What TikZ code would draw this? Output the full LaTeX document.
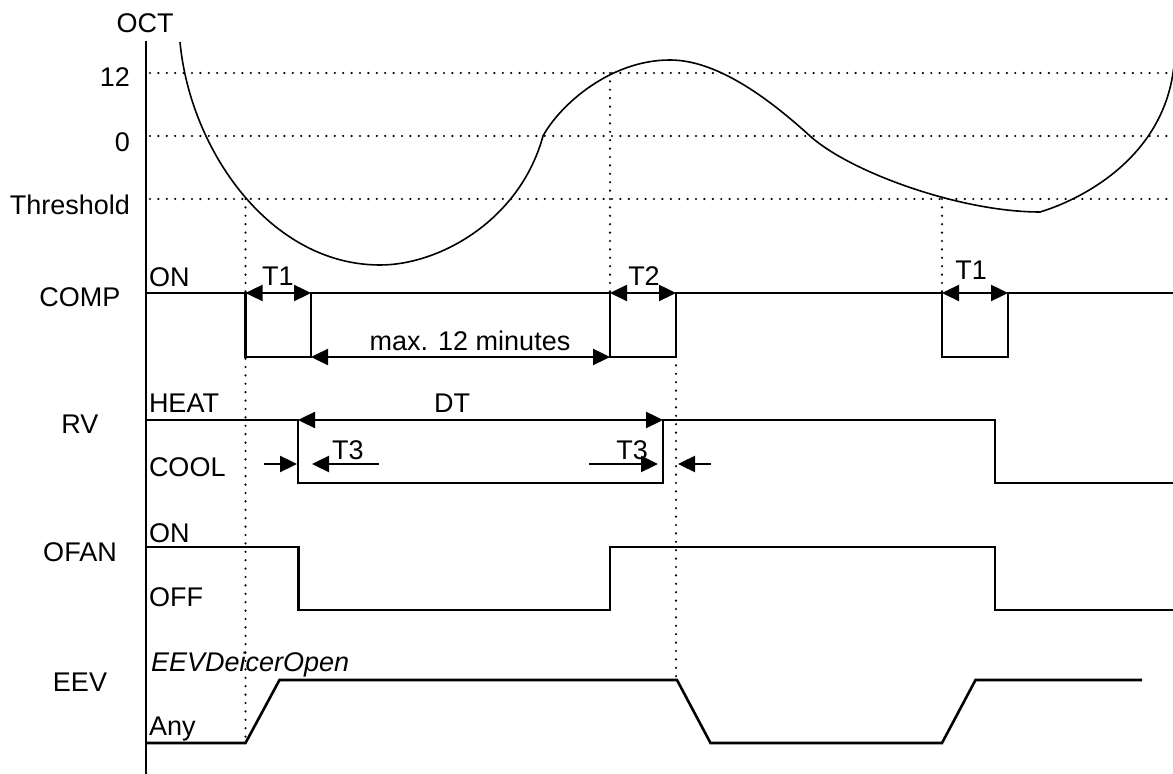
\documentclass[tikz,border=0pt]{standalone}
\usepackage{fontspec}
\setmainfont{Liberation Sans}
\usetikzlibrary{arrows.meta}
\begin{document}
\begin{tikzpicture}[x=0.5pt,y=-0.5pt,
  every node/.style={inner sep=0pt,outer sep=0pt,font=\fontsize{13.5}{16}\selectfont},
  sig/.style={line width=1.3pt,line join=miter},
  axisline/.style={line width=1.3pt},
  guide/.style={line width=1.2pt,dash pattern=on 0pt off 4.2pt,line cap=round},
  curveline/.style={line width=0.8pt},
  dim/.style={line width=1.2pt,{Triangle[length=8.5pt,width=8pt]}-{Triangle[length=8.5pt,width=8pt]}},
  onearrow/.style={line width=1.2pt,-{Triangle[length=8.5pt,width=8pt]}},
  lbl/.style={anchor=base},
  rlbl/.style={anchor=base east},
  llbl/.style={anchor=base west}]
\useasboundingbox (0,0) rectangle (1173,774);

% axis
\coordinate (axtop) at (146,41);
\coordinate (axbot) at (146,774);
\draw[axisline] (axtop) -- (axbot);

% labels
\node[lbl] (oct) at (145,33) {OCT};
\node[rlbl] (l12) at (130,87) {12};
\node[rlbl] (l0) at (130,152) {0};
\node[rlbl] (lth) at (130,215) {Threshold};
\node[lbl] (comp) at (80,307) {COMP};
\node[lbl] (rv) at (80,434) {RV};
\node[lbl] (ofan) at (80,562) {OFAN};
\node[lbl] (eev) at (80,692) {EEV};

\node[llbl] (con) at (149,287) {ON};
\node[llbl] (heat) at (149,413) {HEAT};
\node[llbl] (cool) at (149,477) {COOL};
\node[llbl] (fon) at (149,543) {ON};
\node[llbl] (foff) at (149,607) {OFF};
\node[llbl] (eopen) at (151,672) {\itshape EEVDeicerOpen};
\node[llbl] (eany) at (149,735) {Any};

% horizontal guides
\draw[guide] (150,73) -- (1173,73);
\draw[guide] (150,136) -- (1173,136);
\draw[guide] (150,199) -- (1173,199);

% vertical guides
\draw[guide] (245.5,199) -- (245.5,743);
\draw[guide] (610,73) -- (610,293);
\draw[guide] (676,357) -- (676,680);
\draw[guide] (942,199) -- (942,293);

% OCT curve
\begin{scope}
\clip (0,0) rectangle (1173,774);
\draw[curveline] (180,42) .. controls (190,150) and (270,265) .. (380,265)
  .. controls (440,265) and (520,220) .. (543,136)
  .. controls (560,105) and (610,60) .. (670,60)
  .. controls (715,60) and (765,95) .. (810,136)
  .. controls (850,172) and (960,212) .. (1040,212)
  .. controls (1080,200) and (1160,160) .. (1173,73) -- (1177,45);
\end{scope}

% COMP signal
\draw[sig] (146,293) -- (245.5,293) -- (245.5,357) -- (311,357) -- (311,293) -- (610,293) -- (610,357) -- (676,357) -- (676,293) -- (942,293) -- (942,357) -- (1008,357) -- (1008,293) -- (1173,293);
% RV signal
\draw[sig] (146,420) -- (298,420) -- (298,483) -- (663,483) -- (663,420) -- (995,420) -- (995,483) -- (1173,483);
% OFAN signal
\draw[sig] (146,547) -- (298.5,547) -- (298.5,610) -- (610,610) -- (610,547) -- (995,547) -- (995,610) -- (1173,610);
% EEV signal
\draw[sig] (146,743) -- (245.5,743) -- (279.5,680) -- (677,680) -- (710.5,743) -- (942,743) -- (975.5,680) -- (1142,680);

% dimension arrows
\coordinate (t1a) at (245.5,293); \coordinate (t1b) at (311,293);
\coordinate (t2a) at (610,293); \coordinate (t2b) at (676,293);
\coordinate (t1c) at (942,293); \coordinate (t1d) at (1008,293);
\coordinate (mxa) at (311,357); \coordinate (mxb) at (610,357);
\coordinate (dta) at (298,420); \coordinate (dtb) at (663,420);
\draw[dim] (t1a) -- (t1b);
\draw[dim] (t2a) -- (t2b);
\draw[dim] (t1c) -- (t1d);
\draw[dim] (mxa) -- (mxb);
\draw[dim] (dta) -- (dtb);
\node[lbl] (t1lab) at (278,286) {T1};
\node[lbl] (t2lab) at (644,286) {T2};
\node[lbl] (t1lab2) at (971,280) {T1};
\node[lbl] (mxlab) at (470,351) {max. 12 minutes};
\node[lbl] (dtlab) at (452,413) {DT};

% T3 arrows
\coordinate (a1s) at (264,464); \coordinate (a1e) at (297,464);
\coordinate (a2s) at (379,464); \coordinate (a2e) at (312,464);
\coordinate (a3s) at (589,464); \coordinate (a3e) at (658,464);
\coordinate (a4s) at (711,464); \coordinate (a4e) at (678,464);
\draw[onearrow] (a1s) -- (a1e);
\draw[onearrow] (a2s) -- (a2e);
\draw[onearrow] (a3s) -- (a3e);
\draw[onearrow] (a4s) -- (a4e);
\node[lbl] (t3a) at (348,460) {T3};
\node[lbl] (t3b) at (632,460) {T3};
\end{tikzpicture}
\end{document}
